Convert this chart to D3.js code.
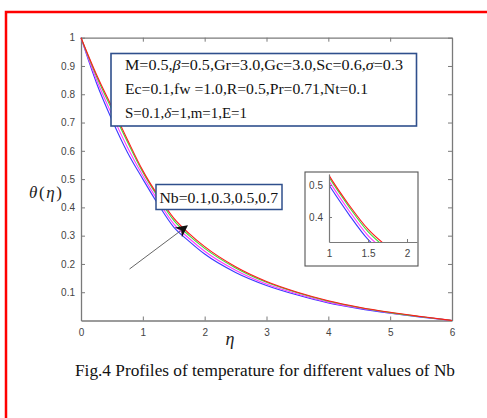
<!DOCTYPE html>
<html lang="en">
<head>
<meta charset="utf-8">
<title>Fig.4 Profiles of temperature</title>
<script src="https://d3js.org/d3.v7.min.js"></script>
<style>
html,body{margin:0;padding:0;background:#fff;}
svg{display:block;}
</style>
</head>
<body>
<script>
// eta grid and theta profiles
var eta      = [0, 0.25, 0.5, 0.75, 1, 1.25, 1.5, 1.75, 2, 2.5, 3, 3.5, 4, 4.5, 5, 5.5, 6];
var thetaNb1 = [1, 0.840, 0.710, 0.595, 0.500, 0.410, 0.330, 0.280, 0.235, 0.170, 0.124, 0.090, 0.062, 0.042, 0.026, 0.012, 0];
var thetaNb3 = [1, 0.852, 0.728, 0.613, 0.512, 0.422, 0.342, 0.290, 0.245, 0.178, 0.129, 0.094, 0.065, 0.044, 0.027, 0.013, 0];
var thetaNb5 = [1, 0.864, 0.746, 0.632, 0.524, 0.434, 0.354, 0.300, 0.255, 0.186, 0.135, 0.098, 0.068, 0.046, 0.028, 0.013, 0];
var thetaNb7 = [1, 0.870, 0.755, 0.640, 0.530, 0.440, 0.362, 0.307, 0.261, 0.190, 0.138, 0.100, 0.070, 0.047, 0.029, 0.014, 0];
var seriesColors = ["#3a3aff", "#ff3cff", "#3cdc3c", "#ff1a1a"];

var xTicks = [0, 1, 2, 3, 4, 5, 6];
var yTicks = [0.1, 0.2, 0.3, 0.4, 0.5, 0.6, 0.7, 0.8, 0.9, 1];
var insetXTicks = [1, 1.5, 2];
var insetYTicks = [0.4, 0.5];

var caption = "Fig.4 Profiles of temperature for different values of Nb";
var nbLabel = "Nb=0.1,0.3,0.5,0.7";

var series = [thetaNb1, thetaNb3, thetaNb5, thetaNb7].map(function(vals, i){
  return {color: seriesColors[i], pts: eta.map(function(e, j){ return {x: e, y: vals[j]}; })};
});

var svg = d3.select("body").append("svg")
    .attr("width", 487)
    .attr("height", 418);

svg.append("rect").attr("width", 487).attr("height", 418).attr("fill", "#fff");

// red frame (runs off the right and bottom of the picture)
svg.append("rect")
    .attr("x", 6).attr("y", 12)
    .attr("width", 700).attr("height", 700)
    .attr("fill", "none")
    .attr("stroke", "#ff0000")
    .attr("stroke-width", 2.5);

var axisGray = "#7a7a7a";
var labelGray = "#444";

// main plot
var x = d3.scaleLinear().domain([0, 6]).range([81, 452]);
var y = d3.scaleLinear().domain([0, 1]).range([320.5, 37.7]);

function styleAxis(g){
  g.select(".domain").attr("stroke", axisGray).attr("stroke-width", 1.3);
  g.selectAll(".tick line").attr("stroke", axisGray);
  g.selectAll(".tick text").attr("fill", labelGray)
    .style("font-family", "Arial, 'Liberation Sans', sans-serif").style("font-size", "10px");
}

svg.append("g").attr("transform", "translate(0,320.5)")
  .call(d3.axisBottom(x).tickValues(xTicks).tickSizeInner(-4).tickSizeOuter(0).tickPadding(8).tickFormat(d3.format("d")))
  .call(styleAxis);
svg.append("g").attr("transform", "translate(0,37.7)")
  .call(d3.axisTop(x).tickValues(xTicks).tickSizeInner(-4).tickSizeOuter(0).tickFormat(""))
  .call(styleAxis);
svg.append("g").attr("transform", "translate(81,0)")
  .call(d3.axisLeft(y).tickValues(yTicks).tickSizeInner(-4).tickSizeOuter(0).tickPadding(6).tickFormat(function(d){ return d === 1 ? "1" : d3.format(".1f")(d); }))
  .call(styleAxis);
svg.append("g").attr("transform", "translate(452,0)")
  .call(d3.axisRight(y).tickValues(yTicks).tickSizeInner(-4).tickSizeOuter(0).tickFormat(""))
  .call(styleAxis);

var line = d3.line()
    .x(function(d){ return x(d.x); })
    .y(function(d){ return y(d.y); })
    .curve(d3.curveMonotoneX);

svg.append("g").selectAll("path").data(series).enter().append("path")
    .attr("d", function(d){ return line(d.pts); })
    .attr("fill", "none")
    .attr("stroke", function(d){ return d.color; })
    .attr("stroke-width", 1.1);

// axis labels
var serif = "'Times New Roman', 'Liberation Serif', serif";
var yl = svg.append("text").attr("x", 29).attr("y", 198)
    .attr("textLength", 33).attr("lengthAdjust", "spacing")
    .style("font-family", serif).style("font-size", "17px").attr("fill", "#222");
yl.append("tspan").style("font-style", "italic").text("θ");
yl.append("tspan").text("(");
yl.append("tspan").style("font-style", "italic").text("η");
yl.append("tspan").text(")");

svg.append("text").attr("x", 230).attr("y", 345).attr("text-anchor", "middle")
    .style("font-family", serif).style("font-size", "18px").style("font-style", "italic")
    .attr("fill", "#222").text("η");

// parameter box
var boxBlue = "#2f4f8c";
svg.append("rect").attr("x", 111).attr("y", 53.5).attr("width", 305.5).attr("height", 72.5)
    .attr("fill", "#fff").attr("stroke", boxBlue).attr("stroke-width", 1.6);

var params = [
  [["M=0.5,", 0], ["β", 1], ["=0.5,Gr=3.0,Gc=3.0,Sc=0.6,", 0], ["σ", 1], ["=0.3", 0]],
  [["Ec=0.1,fw =1.0,R=0.5,Pr=0.71,Nt=0.1", 0]],
  [["S=0.1,", 0], ["δ", 1], ["=1,m=1,E=1", 0]]
];
var paramWidths = [278, 243, 122];
params.forEach(function(parts, i){
  var t = svg.append("text").attr("x", 125).attr("y", 69.5 + i * 24)
      .attr("textLength", paramWidths[i]).attr("lengthAdjust", "spacingAndGlyphs")
      .style("font-family", serif).style("font-size", "15px").attr("fill", "#111");
  parts.forEach(function(p){
    t.append("tspan").style("font-style", p[1] ? "italic" : "normal").text(p[0]);
  });
});

// Nb label and arrow
svg.append("rect").attr("x", 156).attr("y", 184.5).attr("width", 126).attr("height", 25)
    .attr("fill", "#fff").attr("stroke", boxBlue).attr("stroke-width", 1.5);
svg.append("text").attr("x", 159.5).attr("y", 202.5)
    .attr("textLength", 118.5).attr("lengthAdjust", "spacingAndGlyphs")
    .style("font-family", serif).style("font-size", "15px").attr("fill", "#111").text(nbLabel);

svg.append("defs").append("marker").attr("id", "head")
    .attr("viewBox", "0 0 10 10").attr("refX", 9).attr("refY", 5)
    .attr("markerWidth", 12).attr("markerHeight", 12).attr("markerUnits", "userSpaceOnUse")
    .attr("orient", "auto")
  .append("path").attr("d", "M0,0 L10,5 L0,10 L3,5 Z").attr("fill", "#111");
svg.append("line").attr("x1", 129.5).attr("y1", 269).attr("x2", 187).attr("y2", 226)
    .attr("stroke", "#555").attr("stroke-width", 0.9).attr("marker-end", "url(#head)");

// inset
svg.append("rect").attr("x", 305).attr("y", 172).attr("width", 113).attr("height", 94)
    .attr("fill", "#fff").attr("stroke", "#555").attr("stroke-width", 1.1);

var xi = d3.scaleLinear().domain([1, 2.128]).range([329, 417]);
var yi = d3.scaleLinear().domain([0.3219, 0.5344]).range([242, 174]);

svg.append("clipPath").attr("id", "insetClip").append("rect")
    .attr("x", 329).attr("y", 174).attr("width", 88).attr("height", 68);

var lineI = d3.line()
    .x(function(d){ return xi(d.x); })
    .y(function(d){ return yi(d.y); })
    .curve(d3.curveMonotoneX);

svg.append("g").attr("clip-path", "url(#insetClip)")
  .selectAll("path").data(series).enter().append("path")
    .attr("d", function(d){ return lineI(d.pts); })
    .attr("fill", "none")
    .attr("stroke", function(d){ return d.color; })
    .attr("stroke-width", 1.1);

function styleInset(g){
  g.select(".domain").attr("stroke", axisGray).attr("stroke-width", 1.2);
  g.selectAll(".tick line").attr("stroke", axisGray);
  g.selectAll(".tick text").attr("fill", labelGray)
    .style("font-family", "Arial, 'Liberation Sans', sans-serif").style("font-size", "10px");
}
svg.append("g").attr("transform", "translate(0,242)")
  .call(d3.axisBottom(xi).tickValues(insetXTicks).tickSizeInner(-3).tickSizeOuter(0).tickPadding(8).tickFormat(d3.format("")))
  .call(styleInset);
svg.append("g").attr("transform", "translate(329,0)")
  .call(d3.axisLeft(yi).tickValues(insetYTicks).tickSizeInner(-3).tickSizeOuter(0).tickPadding(6).tickFormat(d3.format(".1f")))
  .call(styleInset);

// caption
svg.append("text").attr("x", 75).attr("y", 376)
    .attr("textLength", 380).attr("lengthAdjust", "spacingAndGlyphs")
    .style("font-family", serif).style("font-size", "16px").attr("fill", "#111").text(caption);
</script>
</body>
</html>
